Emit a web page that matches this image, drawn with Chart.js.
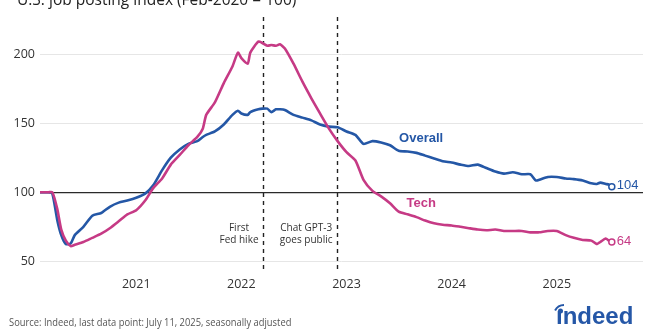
<!DOCTYPE html>
<html>
<head>
<meta charset="utf-8">
<script src="https://cdn.jsdelivr.net/npm/chart.js@4.4.1/dist/chart.umd.min.js"></script>
<style>
  html, body { margin: 0; padding: 0; background: #fff; }
  #wrap { width: 660px; height: 330px; position: relative; }
</style>
</head>
<body>
<div id="wrap"><canvas id="chart"></canvas></div>
<script>
// Indeed job postings index, Feb 2020 = 100
const dates = [
  '2020-02-01', '2020-03-01', '2020-03-15', '2020-04-01', '2020-04-15', '2020-05-01', '2020-05-18',
  '2020-06-01', '2020-07-01', '2020-08-01', '2020-09-01', '2020-10-01', '2020-11-01', '2020-12-01',
  '2021-01-01', '2021-02-01', '2021-03-01', '2021-04-01', '2021-05-01', '2021-06-01', '2021-07-01',
  '2021-08-01', '2021-08-20', '2021-09-01', '2021-10-01', '2021-11-01', '2021-12-01', '2021-12-20',
  '2022-01-01', '2022-01-23', '2022-02-01', '2022-03-01', '2022-03-15', '2022-04-01', '2022-04-15',
  '2022-05-01', '2022-05-15', '2022-06-01', '2022-07-01', '2022-08-01', '2022-09-01', '2022-10-01',
  '2022-11-01', '2022-12-01', '2023-01-01', '2023-02-01', '2023-03-01', '2023-04-01', '2023-05-01',
  '2023-06-01', '2023-07-01', '2023-08-01', '2023-09-01', '2023-10-01', '2023-11-01', '2023-12-01',
  '2024-01-01', '2024-02-01', '2024-03-01', '2024-04-01', '2024-05-01', '2024-06-01', '2024-07-01',
  '2024-08-01', '2024-09-01', '2024-10-01', '2024-10-20', '2024-11-01', '2024-12-01', '2025-01-01',
  '2025-02-01', '2025-03-01', '2025-04-01', '2025-05-01', '2025-05-20', '2025-06-01', '2025-06-20',
  '2025-07-01', '2025-07-11',
];
const overall = [
  100, 100, 99, 80, 69, 62.5, 63,
  69, 75, 83, 85, 89.5, 92.5, 94,
  96, 99, 105, 116, 125, 131, 135,
  137, 140, 141.5, 144, 149, 156, 159,
  157, 156, 158, 160, 160.5, 160.5, 158,
  160, 160, 159.5, 156, 154, 152, 149,
  147.5, 147, 144, 141.5, 135, 137, 136,
  134, 130, 129.5, 128.5, 126.5, 124.5, 122.5,
  121.5, 120, 119, 120, 117.5, 115, 113.5,
  114.5, 113, 113, 108.5, 109, 111, 111,
  110, 109.5, 108.5, 106.5, 106, 107, 106,
  105.5, 104,
];
const tech = [
  100, 100, 100, 88, 73, 65, 61,
  62, 64, 67, 70, 74, 79, 84,
  87, 94, 103, 110, 120, 127, 134,
  140, 146, 156, 165, 179, 191, 201,
  197, 193, 201, 209, 208, 206, 206.5,
  206, 207, 204, 193, 180, 168, 157,
  146, 137, 129, 123, 109, 101, 97,
  92, 86, 84, 82, 79.5, 77.5, 76.5,
  76, 75, 74, 73, 72.5, 73, 72,
  72, 72, 71, 71, 71, 72, 72,
  69, 67, 65.5, 65, 62.5, 64, 66.5,
  65, 64,
];
const yearTicks = [2021, 2022, 2023, 2024, 2025];
const valueTicks = [50, 100, 150, 200];
const events = [
  { date: '2022-03-16', lines: ['First', 'Fed hike'] },
  { date: '2022-11-30', lines: ['Chat GPT-3', 'goes public'] },
];

const COLORS = {
  overall: '#2457a6',
  tech: '#c63a85',
  text: '#333333',
  grid: '#e6e6e6',
  logo: '#2557a7',
};

function toYear(s) {
  const d = new Date(s + 'T00:00:00Z');
  const y = d.getUTCFullYear();
  const start = Date.UTC(y, 0, 1), end = Date.UTC(y + 1, 0, 1);
  return y + (d - start) / (end - start);
}

const xs = dates.map(toYear);
const lastIdx = dates.length - 1;

function series(values, color, order) {
  return {
    data: values.map((v, i) => ({ x: xs[i], y: v })),
    borderColor: color,
    borderWidth: 2.6,
    tension: 0.2,
    borderJoinStyle: 'round',
    pointRadius: ctx => (ctx.dataIndex === lastIdx ? 3 : 0),
    pointBorderWidth: 1.5,
    pointBackgroundColor: '#fff',
    pointBorderColor: color,
    order,
  };
}

const extras = {
  id: 'extras',
  beforeDatasetsDraw(chart) {
    const { ctx, chartArea: a, scales: { x, y } } = chart;
    ctx.save();
    ctx.strokeStyle = '#222';
    ctx.lineWidth = 1.4;
    ctx.setLineDash([4, 4]);
    ctx.font = '10px "Open Sans"';
    ctx.fillStyle = COLORS.text;
    ctx.textBaseline = 'middle';
    ctx.textAlign = 'center';
    events.forEach(e => {
      const px = Math.round(x.getPixelForValue(toYear(e.date))) + 0.5;
      ctx.beginPath();
      ctx.moveTo(px, a.top);
      ctx.lineTo(px, a.bottom);
      ctx.stroke();
      const w = Math.max(...e.lines.map(l => ctx.measureText(l).width));
      const cx = px - 5 - w / 2;
      e.lines.forEach((l, i) => ctx.fillText(l, cx, y.getPixelForValue(74.2) + i * 12.5));
    });
    ctx.restore();
  },
  afterDatasetsDraw(chart) {
    const { ctx, scales: { x, y } } = chart;
    ctx.save();
    // series names
    ctx.font = 'bold 13px "Liberation Sans"';
    ctx.textAlign = 'center';
    ctx.textBaseline = 'middle';
    ctx.fillStyle = COLORS.overall;
    ctx.fillText('Overall', x.getPixelForValue(2023.71), y.getPixelForValue(138.6));
    ctx.fillStyle = COLORS.tech;
    ctx.fillText('Tech', x.getPixelForValue(2023.71), y.getPixelForValue(92.2));
    // end values
    ctx.font = '13px "Liberation Sans"';
    ctx.textAlign = 'left';
    [[overall, COLORS.overall], [tech, COLORS.tech]].forEach(([vals, c]) => {
      ctx.fillStyle = c;
      const v = vals[lastIdx];
      ctx.fillText(String(Math.round(v)), x.getPixelForValue(xs[lastIdx]) + 5, y.getPixelForValue(v) - 1);
    });
    // title (cut off at the top of the frame)
    ctx.fillStyle = '#222';
    ctx.textBaseline = 'alphabetic';
    ctx.font = '15.5px "Open Sans"';
    ctx.fillText('U.S. job posting index (Feb-2020 = 100)', 17, 5);
    // source, condensed
    ctx.fillStyle = '#555';
    ctx.font = '11px "Open Sans"';
    ctx.textBaseline = 'middle';
    ctx.save();
    ctx.translate(9, 323);
    ctx.scale(0.85, 1);
    ctx.fillText('Source: Indeed, last data point: July 11, 2025, seasonally adjusted', 0, 0);
    ctx.restore();
    // logo
    ctx.fillStyle = COLORS.logo;
    ctx.font = 'bold 24px "Liberation Sans"';
    ctx.textBaseline = 'alphabetic';
    ctx.fillText('\u0131ndeed', 556, 324);
    ctx.beginPath();
    ctx.arc(560.5, 311, 2.5, 0, Math.PI * 2);
    ctx.fill();
    ctx.strokeStyle = COLORS.logo;
    ctx.lineWidth = 2;
    ctx.beginPath();
    ctx.arc(564, 315, 10, Math.PI * 1.15, Math.PI * 1.5);
    ctx.stroke();
    ctx.restore();
  },
};

new Chart(document.getElementById('chart'), {
  type: 'line',
  data: {
    datasets: [
      series(overall, COLORS.overall, 2),
      series(tech, COLORS.tech, 1),
    ],
  },
  options: {
    responsive: true,
    maintainAspectRatio: false,
    animation: false,
    layout: { padding: { top: 17, right: 17, left: 0, bottom: 0 } },
    plugins: {
      legend: { display: false },
      tooltip: { enabled: false },
    },
    scales: {
      x: {
        type: 'linear',
        min: toYear('2020-02-01'),
        max: 2025.82,
        afterBuildTicks: s => { s.ticks = yearTicks.map(v => ({ value: v })); },
        afterFit: s => { s.height = 58; },
        grid: { display: false, drawTicks: false },
        border: { display: false },
        ticks: {
          padding: 5,
          color: COLORS.text,
          font: { family: 'Open Sans', size: 12.5 },
          callback: v => String(v),
          maxRotation: 0,
        },
      },
      y: {
        min: 42.3,
        max: 226.8,
        afterBuildTicks: s => { s.ticks = valueTicks.map(v => ({ value: v })); },
        afterFit: s => { s.width = 40; },
        grid: {
          drawTicks: false,
          color: c => (c.tick && c.tick.value === 100 ? '#2a2a2a' : COLORS.grid),
          lineWidth: c => (c.tick && c.tick.value === 100 ? 1.3 : 1),
        },
        border: { display: false },
        ticks: {
          padding: 5,
          color: COLORS.text,
          font: { family: 'Open Sans', size: 12.5 },
          callback: v => String(v),
        },
      },
    },
  },
  plugins: [extras],
});
</script>
</body>
</html>
